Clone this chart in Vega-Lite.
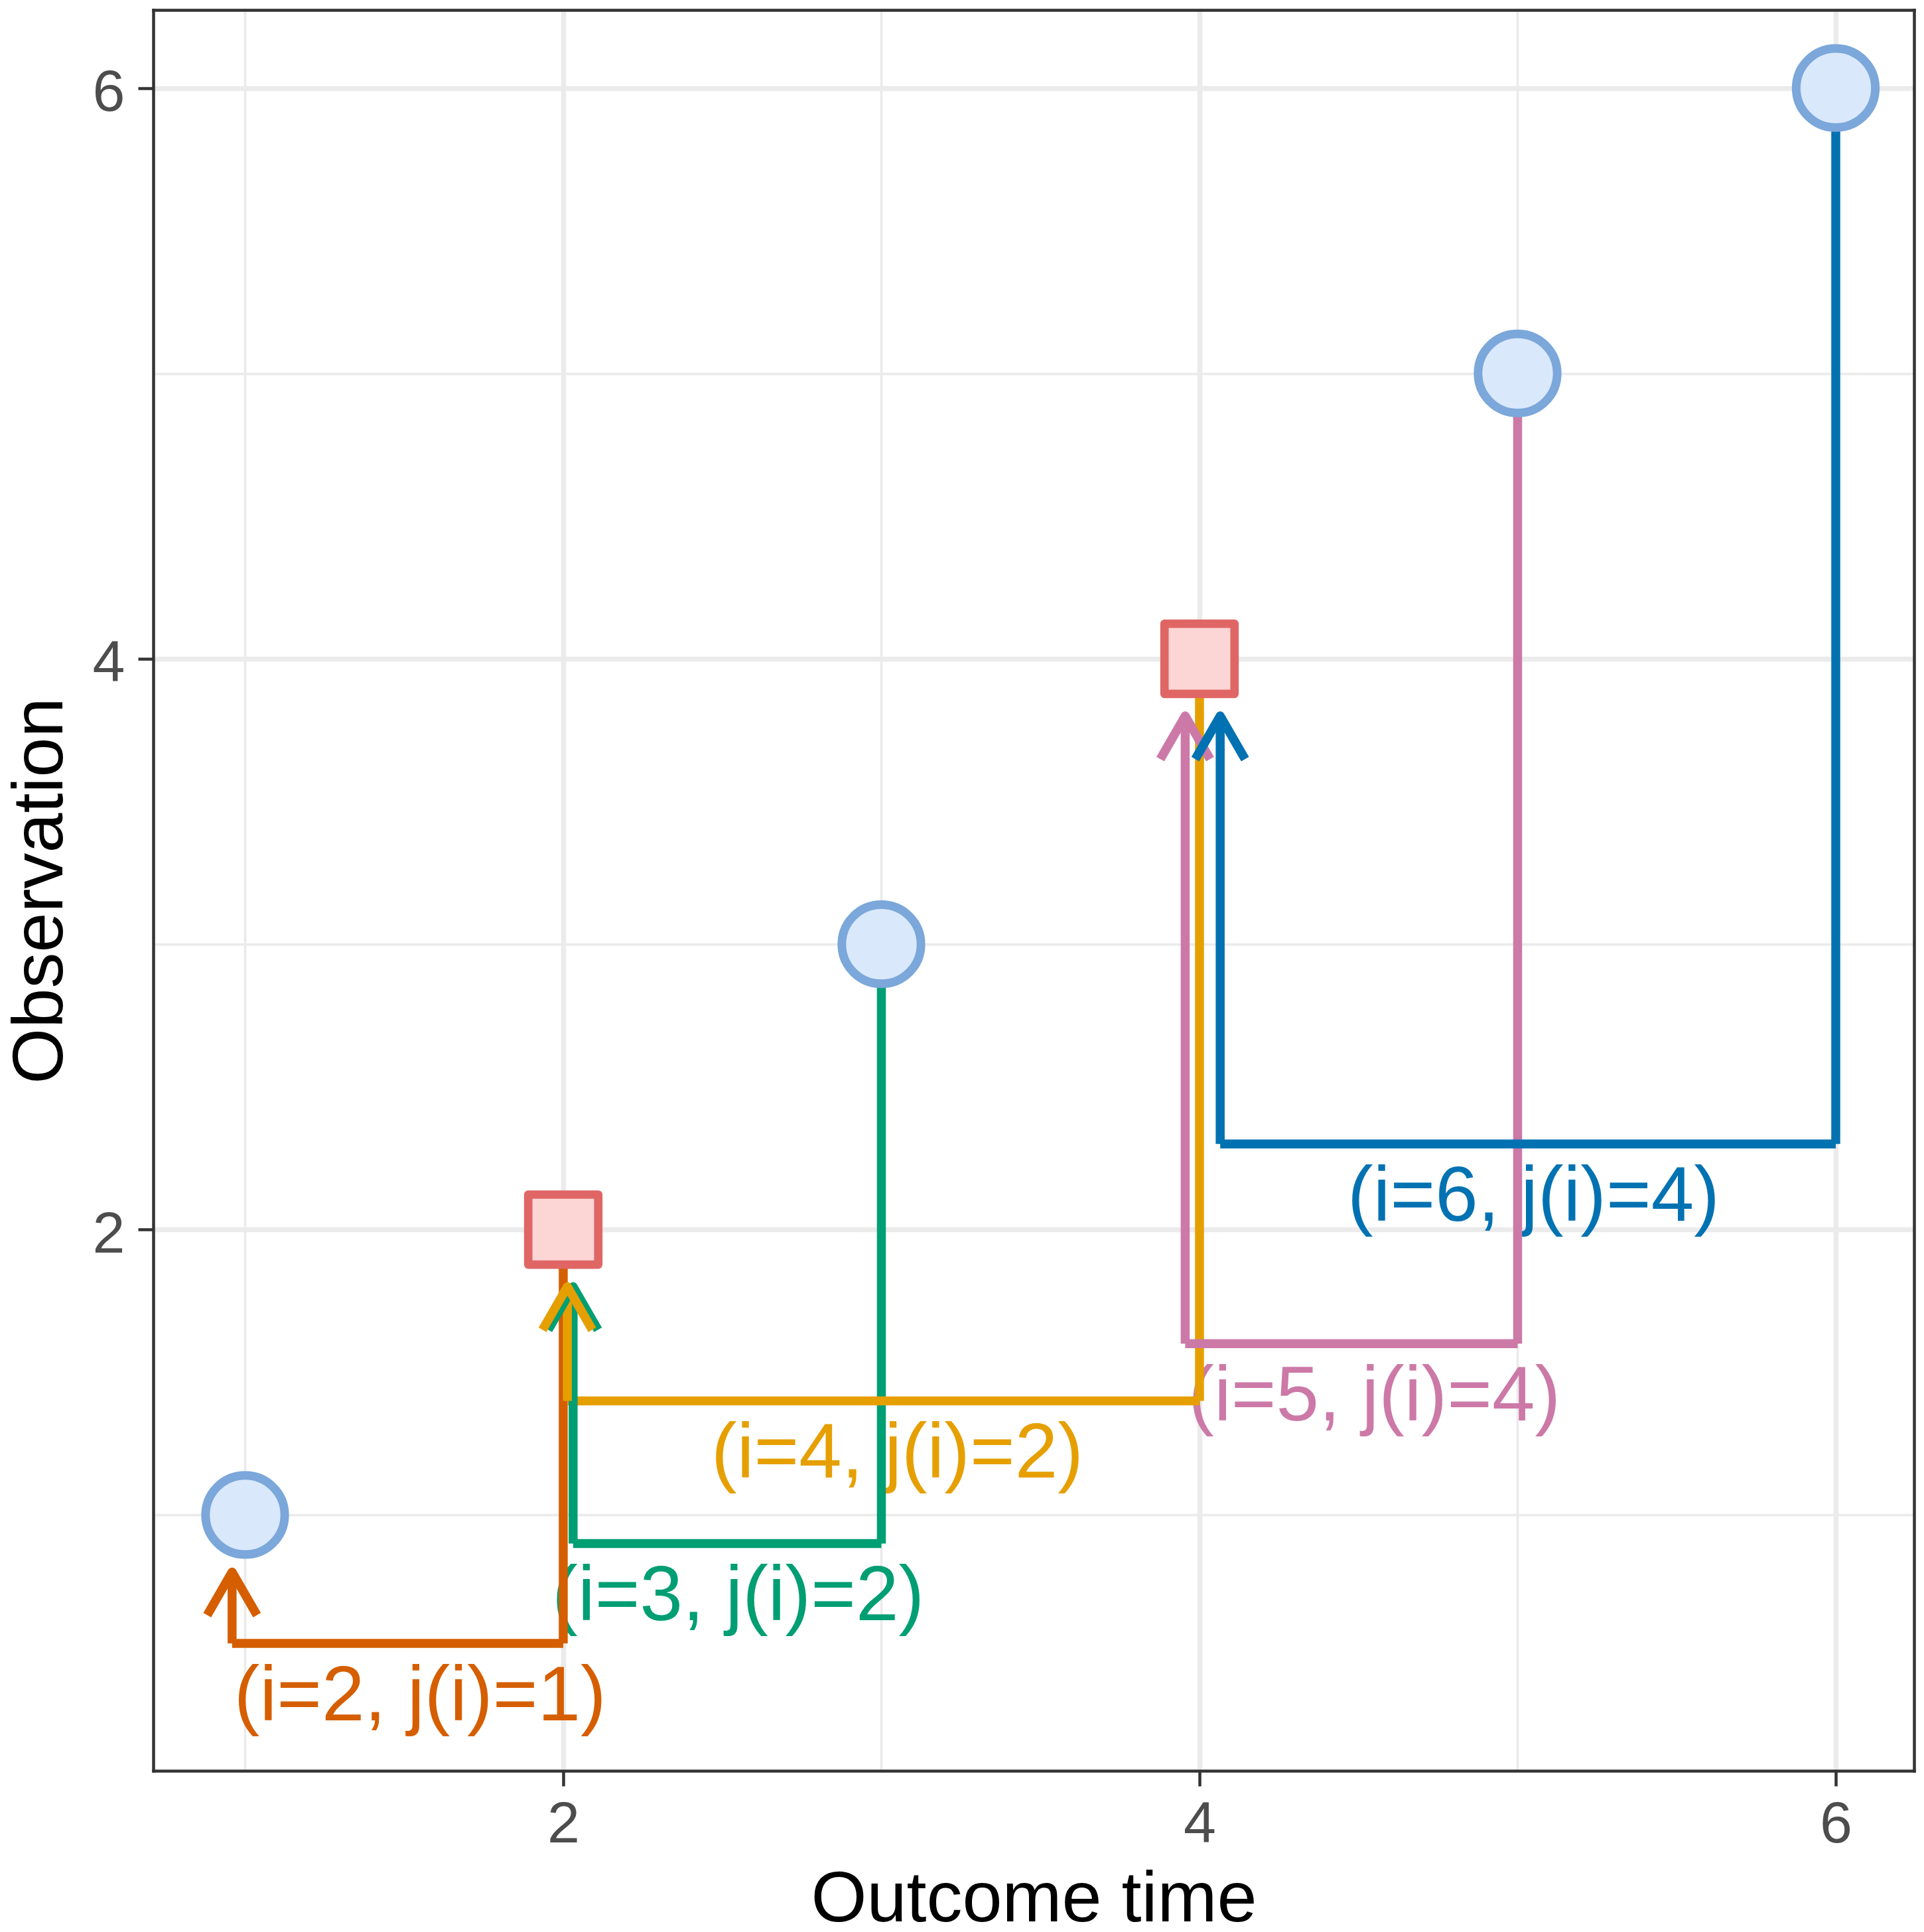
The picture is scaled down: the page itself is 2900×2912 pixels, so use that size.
{
  "$schema": "https://vega.github.io/schema/vega-lite/v6.json",
  "width": 2654,
  "height": 2654,
  "autosize": {"type": "none"},
  "padding": {"left": 231, "top": 15, "right": 15, "bottom": 243},
  "background": "#FFFFFF",
  "config": {
    "view": {"stroke": null},
    "font": "Liberation Sans"
  },
  "datasets": {
    "segments": [
      {"i": "2", "part": "drop", "x": 2.0, "y": 2.0, "x2": 2.0, "y2": 0.55},
      {"i": "3", "part": "drop", "x": 3.0, "y": 3.0, "x2": 3.0, "y2": 0.9},
      {"i": "4", "part": "drop", "x": 4.0, "y": 4.0, "x2": 4.0, "y2": 1.4},
      {"i": "5", "part": "drop", "x": 5.0, "y": 5.0, "x2": 5.0, "y2": 1.6},
      {"i": "6", "part": "drop", "x": 6.0, "y": 6.0, "x2": 6.0, "y2": 2.3},
      {"i": "2", "part": "across", "x": 2.0, "y": 0.55, "x2": 0.959, "y2": 0.55},
      {"i": "3", "part": "across", "x": 3.0, "y": 0.9, "x2": 2.031, "y2": 0.9},
      {"i": "4", "part": "across", "x": 4.0, "y": 1.4, "x2": 2.013, "y2": 1.4},
      {"i": "5", "part": "across", "x": 5.0, "y": 1.6, "x2": 3.955, "y2": 1.6},
      {"i": "6", "part": "across", "x": 6.0, "y": 2.3, "x2": 4.065, "y2": 2.3},
      {"i": "2", "part": "arrow", "x": 0.959, "y": 0.55, "x2": 0.959, "y2": 0.8},
      {"i": "3", "part": "arrow", "x": 2.031, "y": 0.9, "x2": 2.031, "y2": 1.8},
      {"i": "4", "part": "arrow", "x": 2.013, "y": 1.4, "x2": 2.013, "y2": 1.8},
      {"i": "5", "part": "arrow", "x": 3.955, "y": 1.6, "x2": 3.955, "y2": 3.8},
      {"i": "6", "part": "arrow", "x": 4.065, "y": 2.3, "x2": 4.065, "y2": 3.8}
    ],
    "labels": [
      {"i": "2", "x": 1.55, "y": 0.35, "label": "(i=2, j(i)=1)"},
      {"i": "3", "x": 2.55, "y": 0.7, "label": "(i=3, j(i)=2)"},
      {"i": "4", "x": 3.05, "y": 1.2, "label": "(i=4, j(i)=2)"},
      {"i": "5", "x": 4.55, "y": 1.4, "label": "(i=5, j(i)=4)"},
      {"i": "6", "x": 5.05, "y": 2.1, "label": "(i=6, j(i)=4)"}
    ],
    "points": [
      {"x": 1, "y": 1, "kind": "event"},
      {"x": 2, "y": 2, "kind": "censored"},
      {"x": 3, "y": 3, "kind": "event"},
      {"x": 4, "y": 4, "kind": "censored"},
      {"x": 5, "y": 5, "kind": "event"},
      {"x": 6, "y": 6, "kind": "event"}
    ]
  },
  "layer": [
    {
      "data": {"name": "labels"},
      "mark": {"type": "text", "font": "Liberation Sans", "fontSize": 116, "align": "center", "baseline": "middle", "dy": -5},
      "encoding": {
        "x": {
          "field": "x", "type": "quantitative",
          "scale": {"domain": [0.7112, 6.2461], "nice": false, "zero": false},
          "axis": {
            "orient": "bottom", "values": [1, 2, 3, 4, 5, 6], "format": "d",
            "domain": false, "zindex": 0,
            "grid": true, "gridColor": "#EBEBEB",
            "gridWidth": {"condition": {"test": "datum.value % 2 === 0", "value": 7.5}, "value": 3.75},
            "ticks": true, "tickColor": "#333333", "tickWidth": 4.5, "tickSize": 23,
            "tickOpacity": {"condition": {"test": "datum.value % 2 === 0", "value": 1}, "value": 0},
            "labelExpr": "datum.value % 2 === 0 ? datum.label : ''",
            "labelFont": "Liberation Sans", "labelFontSize": 88, "labelColor": "#4D4D4D",
            "labelPadding": 14, "labelFlush": false, "labelOverlap": false,
            "title": "Outcome time", "titleFont": "Liberation Sans", "titleFontSize": 108,
            "titleFontWeight": "normal", "titleColor": "#000000",
            "titleBaseline": "alphabetic", "titleY": 226
          }
        },
        "y": {
          "field": "y", "type": "quantitative",
          "scale": {"domain": [0.1037, 6.2736], "nice": false, "zero": false},
          "axis": {
            "orient": "left", "values": [1, 2, 3, 4, 5, 6], "format": "d",
            "domain": false, "zindex": 0,
            "grid": true, "gridColor": "#EBEBEB",
            "gridWidth": {"condition": {"test": "datum.value % 2 === 0", "value": 7.5}, "value": 3.75},
            "ticks": true, "tickColor": "#333333", "tickWidth": 4.5, "tickSize": 23,
            "tickOpacity": {"condition": {"test": "datum.value % 2 === 0", "value": 1}, "value": 0},
            "labelExpr": "datum.value % 2 === 0 ? datum.label : ''",
            "labelFont": "Liberation Sans", "labelFontSize": 88, "labelColor": "#4D4D4D",
            "labelPadding": 20, "labelOffset": 8, "labelFlush": false, "labelOverlap": false,
            "title": "Observation", "titleFont": "Liberation Sans", "titleFontSize": 108,
            "titleFontWeight": "normal", "titleColor": "#000000",
            "titleBaseline": "alphabetic", "titleX": -137.5
          }
        },
        "text": {"field": "label", "type": "nominal"},
        "color": {
          "field": "i", "type": "nominal", "legend": null,
          "scale": {"domain": ["2", "3", "4", "5", "6"], "range": ["#D55E00", "#009E73", "#E69F00", "#CC79A7", "#0072B2"]}
        }
      }
    },
    {
      "data": {"name": "segments"},
      "mark": {"type": "rule", "strokeWidth": 13.5, "strokeCap": "butt"},
      "encoding": {
        "x": {
          "field": "x", "type": "quantitative",
          "scale": {"domain": [0.7112, 6.2461], "nice": false, "zero": false},
          "axis": {"orient": "top", "domain": true, "domainColor": "#333333", "domainWidth": 4.5, "domainCap": "square",
                   "ticks": false, "labels": false, "grid": false, "title": null, "zindex": 1}
        },
        "y": {
          "field": "y", "type": "quantitative",
          "scale": {"domain": [0.1037, 6.2736], "nice": false, "zero": false},
          "axis": {"orient": "right", "domain": true, "domainColor": "#333333", "domainWidth": 4.5, "domainCap": "square",
                   "ticks": false, "labels": false, "grid": false, "title": null, "zindex": 1}
        },
        "x2": {"field": "x2"},
        "y2": {"field": "y2"},
        "color": {"field": "i", "type": "nominal", "legend": null}
      }
    },
    {
      "data": {"name": "segments"},
      "transform": [{"filter": "datum.part === 'arrow'"}],
      "mark": {"type": "point", "shape": "M-0.577,1L0,0L0.577,1", "size": 16900, "filled": false,
               "strokeWidth": 13.5, "strokeJoin": "round", "strokeCap": "butt", "opacity": 1},
      "encoding": {
        "x": {
          "field": "x2", "type": "quantitative",
          "scale": {"domain": [0.7112, 6.2461], "nice": false, "zero": false},
          "axis": {"orient": "bottom", "domain": true, "domainColor": "#333333", "domainWidth": 4.5, "domainCap": "square",
                   "ticks": false, "labels": false, "grid": false, "title": null, "zindex": 1}
        },
        "y": {
          "field": "y2", "type": "quantitative",
          "scale": {"domain": [0.1037, 6.2736], "nice": false, "zero": false},
          "axis": {"orient": "left", "domain": true, "domainColor": "#333333", "domainWidth": 4.5, "domainCap": "square",
                   "ticks": false, "labels": false, "grid": false, "title": null, "zindex": 1}
        },
        "color": {"field": "i", "type": "nominal", "legend": null}
      }
    },
    {
      "data": {"name": "points"},
      "transform": [{"filter": "datum.kind === 'event'"}],
      "mark": {"type": "point", "shape": "circle", "size": 14230, "filled": true, "opacity": 1,
               "fill": "#DAE8FC", "stroke": "#7BA7DA", "strokeWidth": 13},
      "encoding": {
        "x": {"field": "x", "type": "quantitative", "scale": {"domain": [0.7112, 6.2461], "nice": false, "zero": false}, "axis": null},
        "y": {"field": "y", "type": "quantitative", "scale": {"domain": [0.1037, 6.2736], "nice": false, "zero": false}, "axis": null}
      }
    },
    {
      "data": {"name": "points"},
      "transform": [{"filter": "datum.kind === 'censored'"}],
      "mark": {"type": "point", "shape": "square", "size": 11150, "filled": true, "opacity": 1,
               "fill": "#FCD5D5", "stroke": "#E06666", "strokeWidth": 12.7, "strokeJoin": "round"},
      "encoding": {
        "x": {"field": "x", "type": "quantitative", "scale": {"domain": [0.7112, 6.2461], "nice": false, "zero": false}, "axis": null},
        "y": {"field": "y", "type": "quantitative", "scale": {"domain": [0.1037, 6.2736], "nice": false, "zero": false}, "axis": null}
      }
    }
  ],
  "resolve": {"axis": {"x": "independent", "y": "independent"}}
}
